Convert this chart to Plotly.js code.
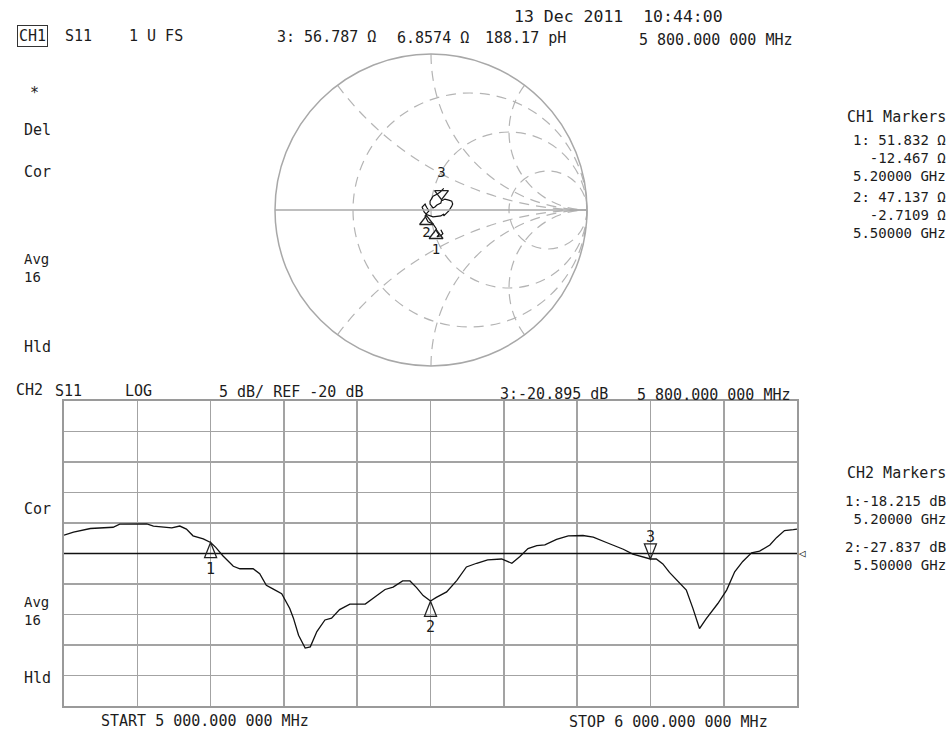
<!DOCTYPE html>
<html><head><meta charset="utf-8">
<script src="https://cdn.plot.ly/plotly-3.0.1.min.js"></script>
<style>html,body{margin:0;padding:0;background:#fff;}#chart{width:951px;height:732px;}</style>
</head><body><div id="chart"></div>
<script>
// ---- CH2 (log magnitude) trace ----
const freqMHz = [5000,5013,5036,5067,5076,5113,5122,5147,5158,5167,5176,5190,5200,5207,5217,5231,5240,5258,5267,5276,
  5285,5297,5308,5313,5320,5329,5336,5345,5356,5365,5376,5390,5411,5422,5438,5449,5462,5472,5481,5490,
  5500,5508,5522,5536,5549,5563,5578,5597,5611,5622,5633,5645,5656,5672,5688,5708,5722,5740,5763,5776,
  5800,5808,5817,5826,5838,5849,5858,5867,5876,5892,5904,5915,5926,5938,5949,5963,5972,5983,5995,6000];
const s11dB = [-17.0,-16.5,-15.9,-15.7,-15.2,-15.15,-15.5,-15.8,-15.5,-16.0,-17.1,-17.6,-18.2,-19.0,-20.4,-22.1,-22.5,-22.5,-23.3,-25.2,
  -25.8,-26.6,-29.0,-30.6,-33.4,-35.5,-35.3,-32.8,-30.9,-30.6,-29.2,-28.3,-28.3,-27.3,-25.9,-25.5,-24.5,-24.5,-25.6,-26.9,
  -27.8,-27.2,-26.3,-24.4,-22.2,-21.6,-21.05,-20.9,-21.6,-20.5,-19.2,-18.7,-18.6,-17.7,-17.1,-17.05,-17.3,-18.2,-19.3,-20.1,
  -20.9,-20.9,-21.7,-23.1,-24.7,-26.0,-29.0,-32.3,-30.7,-28.2,-26.0,-23.0,-21.3,-19.9,-19.6,-18.6,-17.4,-16.25,-16.1,-16.0];
const startMHz = 5000, stopMHz = 6000, divMHz = 100;
const refDb = -20, dbPerDiv = 5, nDivY = 10;

// ---- markers ----
const markerIds = ['1','2','3'];
const markerFreqMHz = [5200, 5500, 5800];
const markerDb = [-18.215, -27.837, -20.895];
const markerR = [51.832, 47.137, 56.787];   // ohms
const markerX = [-12.467, -2.7109, 6.8574]; // ohms
const z0 = 50;

// ---- CH1 Smith trace (reflection coefficient) ----
const smithGammaRe = [0.063,0.076,0.063,0.038,0.051,0.038,0.033,0.013,-0.019,-0.038,-0.025,-0.013,-0.025,-0.032,-0.038,-0.057,-0.044,-0.029,0.013,0.063,
  0.082,0.082,0.114,0.133,0.139,0.133,0.114,0.089,0.076,0.067,0.063,0.038,0.025,0.013,-0.006,-0.006,0.013,0.038,0.057,0.082];
const smithGammaIm = [-0.127,-0.152,-0.165,-0.171,-0.158,-0.139,-0.118,-0.089,-0.076,-0.038,-0.019,-0.006,0.013,0.025,0.038,0.019,-0.013,-0.029,-0.044,-0.038,
  -0.025,-0.038,-0.006,0.025,0.038,0.057,0.063,0.070,0.063,0.060,0.044,0.032,0.019,0.013,0.038,0.057,0.089,0.101,0.114,0.139];
const smithRealGrid = [1/3, 1, 3];
const smithImagGrid = [-2, -1, -0.5, 0.5, 1, 2];

// convert gamma -> normalized impedance
const zRe = [], zIm = [];
for (let i = 0; i < smithGammaRe.length; i++) {
  const gr = smithGammaRe[i], gi = smithGammaIm[i];
  const d = (1 - gr) * (1 - gr) + gi * gi;
  zRe.push((1 - gr * gr - gi * gi) / d);
  zIm.push(2 * gi / d);
}

const W = 951, H = 732;
const FONT = 'DejaVu Sans Mono';
const INK = '#1c1c1c';
const GRID = '#a3a3a3';
const upDown = markerIds.map((m, i) => i < 2 ? 'bottom center' : 'top center');

const traces = [
  { type: 'scattersmith', subplot: 'smith', real: zRe, imag: zIm, mode: 'lines',
    line: { color: '#111', width: 1.2 }, hoverinfo: 'skip' },
  { type: 'scattersmith', subplot: 'smith', real: markerR.map(v => v / z0), imag: markerX.map(v => v / z0),
    mode: 'markers', hoverinfo: 'skip',
    marker: { symbol: 'triangle-up-open', angle: markerIds.map((m, i) => i < 2 ? 0 : 180), standoff: 7,
      size: 12, color: '#222', line: { width: 1.3, color: '#222' } } },
  { type: 'scattersmith', subplot: 'smith', real: markerR.map(v => v / z0), imag: markerX.map(v => v / z0),
    mode: 'markers+text', marker: { size: [22, 18, 30], opacity: 0 }, text: markerIds, textposition: upDown,
    textfont: { family: FONT, size: 14, color: INK }, hoverinfo: 'skip' },
  { type: 'scatter', x: [startMHz, stopMHz], y: [refDb, refDb], mode: 'lines',
    line: { color: '#111', width: 1.6 }, hoverinfo: 'skip' },
  { type: 'scatter', x: freqMHz, y: s11dB, mode: 'lines',
    line: { color: '#111', width: 1.3 }, hoverinfo: 'skip' },
  { type: 'scatter', x: markerFreqMHz, y: markerDb, mode: 'markers+text', cliponaxis: false,
    marker: { size: [30, 30, 20], opacity: 0 }, text: markerIds, textposition: upDown,
    textfont: { family: FONT, size: 15, color: INK }, hoverinfo: 'skip' }
];

const shapes = markerFreqMHz.map((f, i) => ({
  type: 'path', xref: 'x', yref: 'y', xsizemode: 'pixel', ysizemode: 'pixel',
  xanchor: f, yanchor: markerDb[i],
  path: i < 2 ? 'M0,0 L-6,-15 L6,-15 Z' : 'M0,0 L-6,15 L6,15 Z',
  line: { color: '#222', width: 1.3 }, fillcolor: 'rgba(0,0,0,0)'
}));

function t(px, py, text, anchor, extra) {
  return Object.assign({ xref: 'paper', yref: 'paper', x: px / W, y: 1 - py / H, text: text,
    showarrow: false, xanchor: anchor || 'left', yanchor: 'middle', align: anchor === 'right' ? 'right' : 'left',
    font: { family: FONT, size: 15, color: INK } }, extra || {});
}
const nb = s => s.replace(/ /g, '\u00a0');
const fmt = (v, d) => (v < 0 ? '-' : '') + Math.abs(v).toFixed(d);
const small = { font: { family: FONT, size: 14, color: INK } };

const ann = [
  t(512, 17, nb('13 Dec 2011  10:44:00'), 'left', { font: { family: FONT, size: 16.5, color: INK } }),
  t(32, 36, 'CH1', 'center', { bordercolor: '#333', borderwidth: 1, borderpad: 1 }),
  t(63, 36, 'S11'),
  t(127, 36, nb('1 U FS')),
  t(275, 37, nb('3: ' + fmt(markerR[2], 3) + ' Ω')),
  t(395, 38, nb(fmt(markerX[2], 4) + ' Ω')),
  t(483, 38, nb('188.17 pH')),
  t(637, 40, nb('5 800.000 000 MHz')),
  t(28, 93, '*'),
  t(22, 130, 'Del'),
  t(22, 172, 'Cor'),
  t(22, 268, 'Avg<br>16', 'left', small),
  t(22, 347, 'Hld'),
  t(948, 117, nb('CH1 Markers'), 'right'),
  t(948, 158, nb('1: ' + fmt(markerR[0], 3) + ' Ω') + '<br>' + nb(fmt(markerX[0], 3) + ' Ω') + '<br>' + nb('5.20000 GHz'), 'right', small),
  t(948, 215, nb('2: ' + fmt(markerR[1], 3) + ' Ω') + '<br>' + nb(fmt(markerX[1], 4) + ' Ω') + '<br>' + nb('5.50000 GHz'), 'right', small),
  t(14, 390, 'CH2'),
  t(53, 391, 'S11'),
  t(123, 391, 'LOG'),
  t(217, 392, nb(dbPerDiv + ' dB/ REF ' + refDb + ' dB')),
  t(498, 394, nb('3:' + fmt(markerDb[2], 3) + ' dB')),
  t(635, 395, nb('5 800.000 000 MHz')),
  t(22, 509, 'Cor'),
  t(22, 611, 'Avg<br>16', 'left', small),
  t(22, 678, 'Hld'),
  t(948, 473, nb('CH2 Markers'), 'right'),
  t(948, 510, nb('1:' + fmt(markerDb[0], 3) + ' dB') + '<br>' + nb('5.20000 GHz'), 'right', small),
  t(948, 556, nb('2:' + fmt(markerDb[1], 3) + ' dB') + '<br>' + nb('5.50000 GHz'), 'right', small),
  t(205, 721, nb('START 5 000.000 000 MHz'), 'center'),
  t(668, 722, nb('STOP 6 000.000 000 MHz'), 'center'),
  { xref: 'x', yref: 'y', x: stopMHz, y: refDb, text: '◁', showarrow: false, xanchor: 'left', yanchor: 'middle',
    font: { family: FONT, size: 11, color: INK } }
];

const layout = {
  width: W, height: H, margin: { l: 0, r: 0, t: 0, b: 0 },
  paper_bgcolor: '#fff', plot_bgcolor: '#fff', showlegend: false, hovermode: false,
  smith: {
    domain: { x: [275 / W, 587 / W], y: [(H - 366) / H, (H - 54) / H] },
    bgcolor: '#fff',
    realaxis: { tickvals: smithRealGrid, showgrid: true, gridcolor: '#b4b4b4', gridwidth: 1.2, griddash: '10px,7px',
      showline: true, linecolor: '#a8a8a8', linewidth: 1.3, showticklabels: false, ticks: '' },
    imaginaryaxis: { tickvals: smithImagGrid, showgrid: true, gridcolor: '#b4b4b4', gridwidth: 1.2, griddash: '10px,7px',
      showline: true, linecolor: '#a8a8a8', linewidth: 1.5, showticklabels: false, ticks: '' }
  },
  xaxis: { domain: [64 / W, 797 / W], range: [startMHz, stopMHz], tick0: startMHz, dtick: divMHz,
    showgrid: true, gridcolor: GRID, gridwidth: 1.6, zeroline: false, showticklabels: false, ticks: '',
    showline: true, mirror: true, linecolor: '#9a9a9a', linewidth: 2 },
  yaxis: { domain: [(H - 706) / H, (H - 401) / H],
    range: [refDb - dbPerDiv * nDivY / 2, refDb + dbPerDiv * nDivY / 2], tick0: refDb, dtick: dbPerDiv,
    showgrid: true, gridcolor: GRID, gridwidth: 1.6, zeroline: false, showticklabels: false, ticks: '',
    showline: true, mirror: true, linecolor: '#9a9a9a', linewidth: 2 },
  annotations: ann,
  shapes: shapes
};

Plotly.newPlot('chart', traces, layout, { staticPlot: true, displayModeBar: false });
</script>
</body></html>
